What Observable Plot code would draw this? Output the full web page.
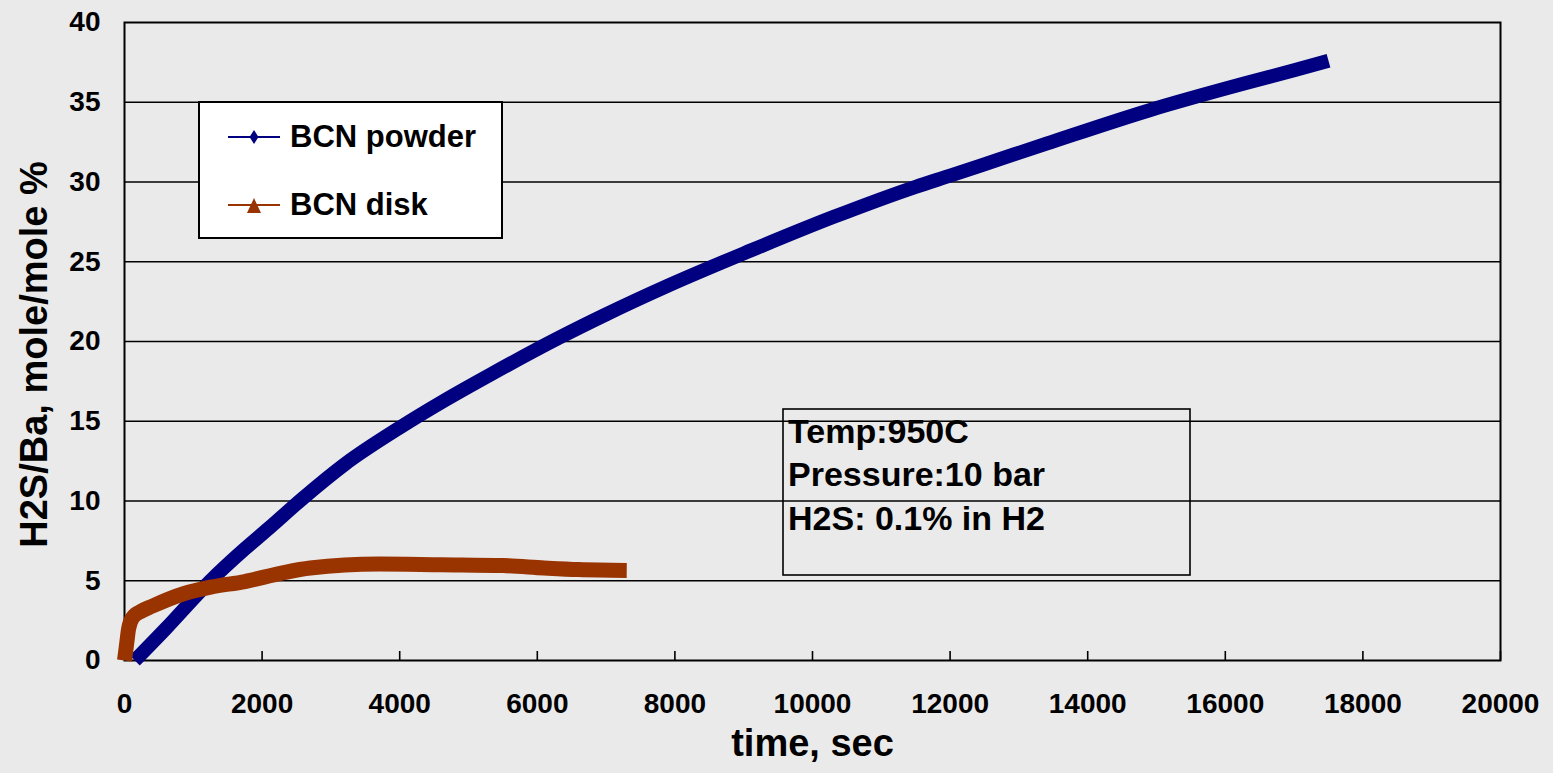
<!DOCTYPE html>
<html>
<head>
<meta charset="utf-8">
<script src="https://cdn.jsdelivr.net/npm/d3@7"></script>
<script src="https://cdn.jsdelivr.net/npm/@observablehq/plot@0.6"></script>
<style>
  html, body { margin: 0; padding: 0; background: #eaeaea; }
  #wrap { position: relative; width: 1553px; height: 773px; overflow: hidden;
          font-family: "Liberation Sans", Arial, sans-serif; }
  #overlay { position: absolute; left: 0; top: 0; pointer-events: none; }
</style>
</head>
<body>
<div id="wrap"></div>
<script>
// ---- data ----
const seriesNames = ["BCN powder", "BCN disk"];
const seriesColors = ["#000080", "#993300"];

const powderTime  = [150, 600, 1250, 1750, 2100, 2600, 3200, 4000, 4650, 5350, 6300, 7000, 7900, 9100, 10300, 11500, 12000, 12700, 13400, 14900, 16300, 17000, 17500];
const powderValue = [0, 2.0, 5.0, 7.0, 8.3, 10.2, 12.3, 14.6, 16.3, 18.0, 20.2, 21.7, 23.5, 25.7, 27.8, 29.7, 30.4, 31.4, 32.4, 34.5, 36.2, 37.0, 37.6];

const diskTime  = [0, 30, 60, 120, 250, 400, 870, 1250, 1750, 2300, 2700, 3700, 4600, 5500, 6100, 6600, 7300];
const diskValue = [0, 1.0, 2.0, 2.7, 3.1, 3.4, 4.2, 4.6, 4.95, 5.5, 5.8, 6.05, 6.0, 5.95, 5.8, 5.7, 5.65];

const xTicks = [0, 2000, 4000, 6000, 8000, 10000, 12000, 14000, 16000, 18000, 20000];
const yTicks = [0, 5, 10, 15, 20, 25, 30, 35, 40];

const xLabel = "time, sec";
const yLabel = "H2S/Ba, mole/mole %";
const noteLines = ["Temp:950C", "Pressure:10 bar", "H2S: 0.1% in H2"];

// ---- tables built from the arrays ----
const powder = powderTime.map((t, i) => ({t, v: powderValue[i]}));
const disk = diskTime.map((t, i) => ({t, v: diskValue[i]}));

const font = '"Liberation Sans", Arial, sans-serif';

const chart = Plot.plot({
  width: 1553,
  height: 773,
  marginLeft: 124,
  marginRight: 53,
  marginTop: 22,
  marginBottom: 113,
  style: {background: "#eaeaea", fontFamily: font, color: "#000", overflow: "visible"},
  x: {domain: [0, 20000]},
  y: {domain: [0, 40]},
  marks: [
    Plot.gridY(yTicks.slice(1, -1), {stroke: "#000", strokeOpacity: 1, strokeWidth: 1.6}),
    Plot.frame({stroke: "#000", strokeWidth: 2}),
    Plot.axisY(yTicks, {tickSize: 0, tickPadding: 24, fontSize: 28, fontWeight: "bold",
                        label: null, tickFormat: d => String(d)}),
    Plot.axisX(xTicks, {tickSize: -9, tickPadding: 42, fontSize: 28, fontWeight: "bold",
                        label: null, tickFormat: d => String(d), strokeWidth: 1.6}),
    Plot.line(powder, {x: "t", y: "v", stroke: seriesColors[0], strokeWidth: 14, curve: "monotone-x",
                       strokeLinejoin: "round", strokeLinecap: "butt"}),
    Plot.line(disk, {x: "t", y: "v", stroke: seriesColors[1], strokeWidth: 15, curve: "monotone-x",
                     strokeLinejoin: "round", strokeLinecap: "butt"}),
    Plot.text([yLabel], {text: d => d, frameAnchor: "left", textAnchor: "middle", rotate: -90,
                         dx: -90, dy: 13, fontSize: 38, fontWeight: "bold", fill: "#000"}),
    Plot.text([xLabel], {text: d => d, frameAnchor: "bottom", dy: 95,
                         fontSize: 38, fontWeight: "bold", fill: "#000"})
  ]
});

const wrap = document.getElementById("wrap");
wrap.appendChild(chart);

// ---- overlay: legend box and condition note ----
const svg = d3.select(wrap).append("svg")
  .attr("id", "overlay")
  .attr("width", 1553).attr("height", 773)
  .attr("font-family", font).attr("font-weight", "bold");

// legend
svg.append("rect").attr("x", 199).attr("y", 102).attr("width", 303).attr("height", 136)
  .attr("fill", "#fff").attr("stroke", "#000").attr("stroke-width", 2);

const rowY = [137, 205];
seriesNames.forEach((name, i) => {
  const y = rowY[i];
  svg.append("line").attr("x1", 228).attr("x2", 280).attr("y1", y).attr("y2", y)
    .attr("stroke", seriesColors[i]).attr("stroke-width", 2);
  if (i === 0) {
    svg.append("path").attr("d", `M254,${y - 7}L258.5,${y}L254,${y + 7}L249.5,${y}Z`)
      .attr("fill", seriesColors[i]);
  } else {
    svg.append("path").attr("d", `M254,${y - 7}L261,${y + 8}L247,${y + 8}Z`)
      .attr("fill", seriesColors[i]);
  }
  svg.append("text").attr("x", 290).attr("y", y + 10).attr("font-size", 31)
    .attr("fill", "#000").text(name);
});

// note box
svg.append("rect").attr("x", 783).attr("y", 409).attr("width", 407).attr("height", 166)
  .attr("fill", "none").attr("stroke", "#000").attr("stroke-width", 1.6);
const noteBase = [443, 486, 530];
noteLines.forEach((s, i) => {
  svg.append("text").attr("x", 788).attr("y", noteBase[i]).attr("font-size", 34)
    .attr("fill", "#000").text(s);
});
</script>
</body>
</html>
